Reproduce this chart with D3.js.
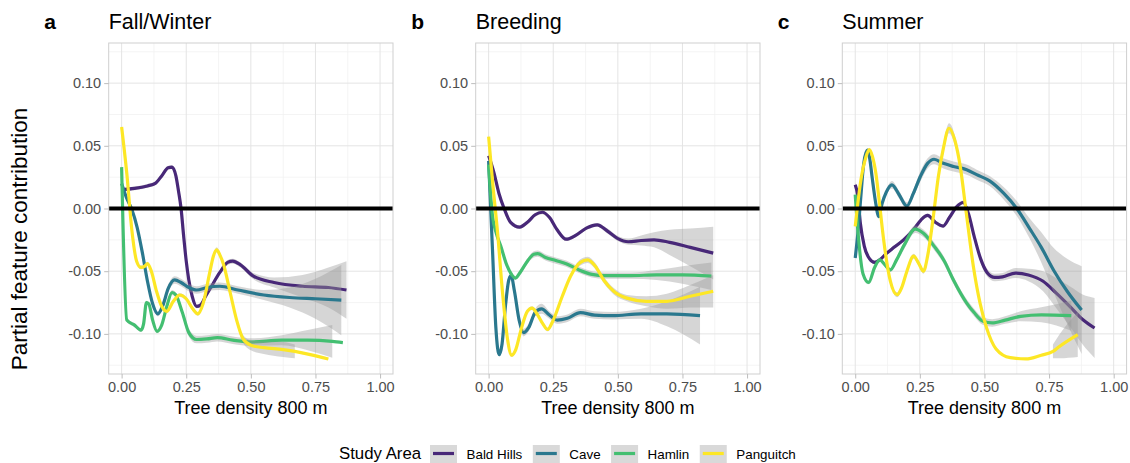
<!DOCTYPE html>
<html>
<head>
<meta charset="utf-8">
<script src="https://cdn.jsdelivr.net/npm/d3@7"></script>
<style>
  html, body { margin: 0; padding: 0; background: #fff; }
  svg { display: block; font-family: "Liberation Sans", Arial, Helvetica, sans-serif; }
</style>
</head>
<body>
<svg id="chart" width="1130" height="463"></svg>
<script>
// ---- data -------------------------------------------------------------
// Each series: [tree density, partial contribution, standard error]
const seasons = ["Fall/Winter", "Breeding", "Summer"];
const panelTags = ["a", "b", "c"];
const studyAreas = ["Bald Hills", "Cave", "Hamlin", "Panguitch"];
const xTicks = [0, 0.25, 0.5, 0.75, 1];
const xMinorTicks = [0.125, 0.375, 0.625, 0.875];
const yTicks = [-0.10, -0.05, 0, 0.05, 0.10];
const yMinorTicks = [-0.125, -0.075, -0.025, 0.025, 0.075, 0.125];
const yLimits = [-0.12, 0.12];

const fallWinterBaldHills = [
  [0.0, 0.015, 0.0015], [0.05, 0.016, 0.0015], [0.10, 0.018, 0.0015], [0.13, 0.020, 0.0015],
  [0.155, 0.026, 0.0015], [0.18, 0.0325, 0.0015], [0.195, 0.033, 0.0015], [0.21, 0.026, 0.0015],
  [0.22, 0.014, 0.0015], [0.23, 0.0, 0.0015], [0.24, -0.022, 0.0015], [0.25, -0.042, 0.0015],
  [0.26, -0.057, 0.0015], [0.273, -0.070, 0.0015], [0.29, -0.078, 0.0015], [0.305, -0.077, 0.0015],
  [0.325, -0.070, 0.0015], [0.345, -0.063, 0.0015], [0.38, -0.051, 0.0015], [0.41, -0.043, 0.002],
  [0.43, -0.042, 0.002], [0.46, -0.045, 0.002], [0.51, -0.054, 0.0025], [0.59, -0.059, 0.004],
  [0.70, -0.062, 0.009], [0.80, -0.063, 0.016], [0.87, -0.065, 0.023]
];
const fallWinterCave = [
  [0.0, 0.020, 0.0015], [0.02, 0.008, 0.0015], [0.04, -0.001, 0.0015], [0.06, -0.015, 0.0015],
  [0.08, -0.035, 0.0015], [0.10, -0.058, 0.0015], [0.12, -0.076, 0.0015], [0.14, -0.084, 0.002],
  [0.16, -0.077, 0.0025], [0.18, -0.064, 0.003], [0.205, -0.057, 0.003], [0.23, -0.059, 0.003],
  [0.26, -0.063, 0.003], [0.29, -0.065, 0.003], [0.33, -0.063, 0.003], [0.38, -0.062, 0.003],
  [0.45, -0.065, 0.003], [0.55, -0.069, 0.004], [0.65, -0.071, 0.008], [0.75, -0.072, 0.016],
  [0.85, -0.073, 0.028]
];
const fallWinterHamlin = [
  [0.0, 0.033, 0.0015], [0.02, -0.089, 0.0015], [0.05, -0.093, 0.0015], [0.075, -0.097, 0.0015],
  [0.085, -0.092, 0.0015], [0.096, -0.075, 0.0015], [0.105, -0.076, 0.0015], [0.12, -0.089, 0.0015],
  [0.137, -0.098, 0.0015], [0.155, -0.093, 0.0015], [0.175, -0.078, 0.0015], [0.195, -0.067, 0.002],
  [0.21, -0.069, 0.002], [0.235, -0.083, 0.0025], [0.26, -0.099, 0.003], [0.29, -0.1045, 0.003],
  [0.33, -0.104, 0.003], [0.37, -0.103, 0.003], [0.43, -0.105, 0.003], [0.50, -0.1065, 0.003],
  [0.62, -0.105, 0.004], [0.72, -0.105, 0.008], [0.815, -0.106, 0.013], [0.856, -0.107, 0.017]
];
const fallWinterPanguitch = [
  [0.0, 0.065, 0.0015], [0.02, 0.028, 0.0015], [0.04, -0.018, 0.0015], [0.058, -0.042, 0.0015],
  [0.075, -0.047, 0.0015], [0.09, -0.046, 0.0015], [0.10, -0.044, 0.0015], [0.115, -0.050, 0.0015],
  [0.135, -0.066, 0.0015], [0.155, -0.078, 0.0015], [0.175, -0.082, 0.0015], [0.20, -0.074, 0.0015],
  [0.225, -0.069, 0.0015], [0.25, -0.072, 0.0015], [0.275, -0.080, 0.0015], [0.295, -0.084, 0.0015],
  [0.315, -0.076, 0.0015], [0.34, -0.052, 0.0015], [0.355, -0.038, 0.0015], [0.368, -0.033, 0.002],
  [0.38, -0.037, 0.002], [0.395, -0.045, 0.002], [0.42, -0.067, 0.002], [0.445, -0.089, 0.0025],
  [0.47, -0.104, 0.003], [0.50, -0.109, 0.004], [0.55, -0.111, 0.005], [0.625, -0.1125, 0.006],
  [0.67, -0.114, 0.0055], [0.73, -0.1165, 0.007], [0.80, -0.120, 0.010]
];

const breedingBaldHills = [
  [0.0, 0.042, 0.0015], [0.02, 0.029, 0.0015], [0.04, 0.012, 0.0015], [0.06, 0.0, 0.0015],
  [0.085, -0.011, 0.0015], [0.12, -0.0148, 0.0015], [0.15, -0.011, 0.0015], [0.18, -0.005, 0.0015],
  [0.208, -0.003, 0.0015], [0.235, -0.007, 0.0015], [0.265, -0.017, 0.0015], [0.30, -0.0245, 0.0015],
  [0.34, -0.021, 0.0015], [0.38, -0.0155, 0.0015], [0.42, -0.013, 0.0015], [0.46, -0.018, 0.002],
  [0.50, -0.024, 0.002], [0.54, -0.0265, 0.0025], [0.59, -0.0255, 0.004], [0.64, -0.025, 0.006],
  [0.70, -0.027, 0.010], [0.78, -0.031, 0.015], [0.869, -0.0356, 0.021]
];
const breedingCave = [
  [0.0, 0.038, 0.0015], [0.015, -0.033, 0.0015], [0.028, -0.095, 0.0015], [0.041, -0.1166, 0.0015],
  [0.052, -0.108, 0.0015], [0.065, -0.078, 0.0015], [0.078, -0.057, 0.0015], [0.087, -0.0535, 0.0015],
  [0.10, -0.066, 0.0015], [0.118, -0.089, 0.002], [0.135, -0.099, 0.003], [0.155, -0.095, 0.003],
  [0.18, -0.083, 0.003], [0.205, -0.080, 0.004], [0.235, -0.085, 0.003], [0.265, -0.089, 0.003],
  [0.305, -0.0875, 0.003], [0.355, -0.083, 0.003], [0.41, -0.085, 0.003], [0.48, -0.0855, 0.003],
  [0.59, -0.084, 0.004], [0.69, -0.084, 0.010], [0.818, -0.0855, 0.023]
];
const breedingHamlin = [
  [0.0, 0.035, 0.0015], [0.015, -0.006, 0.0015], [0.03, -0.020, 0.0015], [0.047, -0.030, 0.0015],
  [0.07, -0.045, 0.0015], [0.09, -0.053, 0.0015], [0.103, -0.0555, 0.0015], [0.125, -0.050, 0.002],
  [0.15, -0.042, 0.002], [0.175, -0.0365, 0.0025], [0.19, -0.036, 0.0025], [0.22, -0.039, 0.0025],
  [0.26, -0.0415, 0.0025], [0.30, -0.044, 0.0025], [0.35, -0.049, 0.0025], [0.40, -0.0525, 0.0025],
  [0.45, -0.0535, 0.0025], [0.55, -0.0535, 0.0025], [0.65, -0.053, 0.004], [0.75, -0.053, 0.007],
  [0.862, -0.054, 0.011]
];
const breedingPanguitch = [
  [0.0, 0.0574, 0.0015], [0.015, 0.022, 0.0015], [0.035, -0.020, 0.0015], [0.054, -0.0675, 0.0015],
  [0.073, -0.104, 0.0015], [0.089, -0.117, 0.0015], [0.105, -0.1125, 0.0015], [0.125, -0.097, 0.0015],
  [0.15, -0.082, 0.0015], [0.168, -0.0795, 0.0015], [0.19, -0.085, 0.0015], [0.21, -0.092, 0.0015],
  [0.228, -0.0965, 0.0015], [0.25, -0.089, 0.0015], [0.285, -0.070, 0.0015], [0.317, -0.054, 0.0015],
  [0.355, -0.043, 0.0025], [0.383, -0.041, 0.0025], [0.413, -0.046, 0.0025], [0.445, -0.057, 0.0025],
  [0.484, -0.066, 0.0025], [0.535, -0.0715, 0.0025], [0.61, -0.074, 0.004], [0.69, -0.074, 0.006],
  [0.78, -0.070, 0.009], [0.869, -0.066, 0.013]
];

const summerBaldHills = [
  [0.0, 0.019, 0.0015], [0.01, 0.010, 0.0015], [0.02, -0.012, 0.0015], [0.035, -0.030, 0.0015],
  [0.055, -0.040, 0.0015], [0.075, -0.043, 0.0015], [0.095, -0.041, 0.0015], [0.12, -0.036, 0.0015],
  [0.15, -0.031, 0.0015], [0.187, -0.025, 0.0015], [0.225, -0.017, 0.0015], [0.255, -0.009, 0.0015],
  [0.28, -0.0055, 0.0015], [0.31, -0.011, 0.0015], [0.34, -0.014, 0.0015], [0.365, -0.007, 0.0015],
  [0.393, 0.0015, 0.0015], [0.418, 0.0048, 0.0015], [0.438, -0.004, 0.0015], [0.46, -0.022, 0.002],
  [0.485, -0.040, 0.003], [0.51, -0.051, 0.003], [0.54, -0.055, 0.003], [0.57, -0.0545, 0.003],
  [0.62, -0.0515, 0.004], [0.67, -0.053, 0.005], [0.727, -0.058, 0.008], [0.778, -0.0675, 0.012],
  [0.83, -0.078, 0.016], [0.88, -0.0885, 0.020], [0.926, -0.0953, 0.024]
];
const summerCave = [
  [0.0, -0.0395, 0.0015], [0.01, -0.020, 0.0015], [0.02, 0.005, 0.0015], [0.033, 0.036, 0.0015],
  [0.047, 0.0465, 0.0015], [0.056, 0.040, 0.0015], [0.066, 0.024, 0.0015], [0.078, 0.006, 0.0015],
  [0.091, -0.0065, 0.0015], [0.104, 0.004, 0.0015], [0.12, 0.013, 0.002], [0.142, 0.0189, 0.003],
  [0.17, 0.011, 0.003], [0.20, 0.002, 0.003], [0.225, 0.012, 0.003], [0.252, 0.0255, 0.004],
  [0.28, 0.036, 0.004], [0.305, 0.0393, 0.004], [0.341, 0.036, 0.004], [0.38, 0.0335, 0.004],
  [0.431, 0.031, 0.004], [0.47, 0.027, 0.004], [0.52, 0.022, 0.004], [0.575, 0.012, 0.005],
  [0.625, 0.0, 0.006], [0.675, -0.016, 0.008], [0.72, -0.031, 0.012], [0.77, -0.050, 0.018],
  [0.82, -0.066, 0.026], [0.876, -0.081, 0.035]
];
const summerHamlin = [
  [0.0, 0.011, 0.0015], [0.012, -0.022, 0.0015], [0.03, -0.052, 0.0015], [0.052, -0.059, 0.0015],
  [0.075, -0.047, 0.0015], [0.095, -0.041, 0.0015], [0.115, -0.045, 0.0015], [0.136, -0.049, 0.0015],
  [0.16, -0.041, 0.002], [0.19, -0.029, 0.003], [0.232, -0.0165, 0.003], [0.265, -0.020, 0.003],
  [0.305, -0.030, 0.003], [0.345, -0.042, 0.003], [0.38, -0.057, 0.003], [0.43, -0.075, 0.003],
  [0.46, -0.083, 0.003], [0.495, -0.090, 0.003], [0.53, -0.0913, 0.003], [0.58, -0.089, 0.003],
  [0.64, -0.086, 0.004], [0.72, -0.0848, 0.006], [0.836, -0.0855, 0.012]
];
const summerPanguitch = [
  [0.0, -0.0143, 0.0015], [0.01, 0.004, 0.0015], [0.02, 0.0202, 0.0015], [0.04, 0.040, 0.0015],
  [0.054, 0.047, 0.0015], [0.066, 0.042, 0.0015], [0.08, 0.028, 0.0015], [0.095, 0.002, 0.0015],
  [0.11, -0.025, 0.0015], [0.136, -0.058, 0.0015], [0.162, -0.0688, 0.002], [0.18, -0.063, 0.002],
  [0.20, -0.050, 0.002], [0.226, -0.038, 0.002], [0.245, -0.0435, 0.002], [0.264, -0.050, 0.002],
  [0.28, -0.038, 0.002], [0.30, -0.010, 0.003], [0.322, 0.026, 0.004], [0.341, 0.048, 0.004],
  [0.363, 0.064, 0.004], [0.386, 0.054, 0.004], [0.406, 0.034, 0.003], [0.43, -0.004, 0.003],
  [0.457, -0.046, 0.003], [0.483, -0.0755, 0.003], [0.508, -0.095, 0.004], [0.545, -0.112, 0.009],
  [0.60, -0.119, 0.009], [0.66, -0.120, 0.010], [0.72, -0.117, 0.011], [0.765, -0.114, 0.0055],
  [0.79, -0.110, 0.0095], [0.861, -0.1005, 0.018]
];

const panelSeries = [
  [fallWinterBaldHills, fallWinterCave, fallWinterHamlin, fallWinterPanguitch],
  [breedingBaldHills, breedingCave, breedingHamlin, breedingPanguitch],
  [summerBaldHills, summerCave, summerHamlin, summerPanguitch]
];

// ---- styling ------------------------------------------------------------
const areaColors = ["#482878", "#2A788E", "#43BF71", "#FDE725"];
const W = 1130, H = 463;
const panelLefts = [108.7, 475.7, 842.3];
const panelW = 284.3, panelTop = 43, panelBottom = 374;
const tickColor = "#4D4D4D";
const fmt = v => d3.format(".2f")(v).replace("\u2212", "-");

const svg = d3.select("#chart");
svg.append("rect").attr("width", W).attr("height", H).attr("fill", "#fff");

panelLefts.forEach((left, p) => {
  const x = d3.scaleLinear().domain([-0.05, 1.05]).range([left, left + panelW]);
  const y = d3.scaleLinear().domain([-0.132, 0.132]).range([panelBottom, panelTop]);
  const g = svg.append("g");

  const clipId = "clip" + p;
  svg.append("clipPath").attr("id", clipId)
    .append("rect").attr("x", left).attr("y", panelTop)
    .attr("width", panelW).attr("height", panelBottom - panelTop);

  // grid
  const grid = g.append("g");
  grid.selectAll(".xmin").data(xMinorTicks).join("line")
    .attr("x1", d => x(d)).attr("x2", d => x(d))
    .attr("y1", panelTop).attr("y2", panelBottom)
    .attr("stroke", "#F1F1F1").attr("stroke-width", 0.8);
  grid.selectAll(".ymin").data(yMinorTicks).join("line")
    .attr("y1", d => y(d)).attr("y2", d => y(d))
    .attr("x1", left).attr("x2", left + panelW)
    .attr("stroke", "#F1F1F1").attr("stroke-width", 0.8);
  grid.selectAll(".xmaj").data(xTicks).join("line")
    .attr("x1", d => x(d)).attr("x2", d => x(d))
    .attr("y1", panelTop).attr("y2", panelBottom)
    .attr("stroke", "#E4E4E4").attr("stroke-width", 1);
  grid.selectAll(".ymaj").data(yTicks).join("line")
    .attr("y1", d => y(d)).attr("y2", d => y(d))
    .attr("x1", left).attr("x2", left + panelW)
    .attr("stroke", "#E4E4E4").attr("stroke-width", 1);

  // smooths: ribbon then line for each study area
  const marks = g.append("g").attr("clip-path", `url(#${clipId})`);
  const ribbon = d3.area()
    .defined(d => d[2] != null && d[1] - d[2] >= yLimits[0] - 1e-9 && d[1] + d[2] <= yLimits[1])
    .x(d => x(d[0])).y0(d => y(d[1] - d[2])).y1(d => y(d[1] + d[2]))
    .curve(d3.curveMonotoneX);
  const line = d3.line().x(d => x(d[0])).y(d => y(d[1])).curve(d3.curveMonotoneX);

  panelSeries[p].forEach((series, i) => {
    marks.append("path").attr("d", ribbon(series))
      .attr("fill", "#999999").attr("fill-opacity", 0.4).attr("stroke", "none");
    marks.append("path").attr("d", line(series))
      .attr("fill", "none").attr("stroke", areaColors[i])
      .attr("stroke-width", 3.2).attr("stroke-linecap", "butt").attr("stroke-linejoin", "round");
  });

  // zero reference line
  marks.append("line")
    .attr("x1", left).attr("x2", left + panelW)
    .attr("y1", y(0)).attr("y2", y(0))
    .attr("stroke", "#000").attr("stroke-width", 4);

  // panel border
  g.append("rect").attr("x", left).attr("y", panelTop)
    .attr("width", panelW).attr("height", panelBottom - panelTop)
    .attr("fill", "none").attr("stroke", "#CFCFCF").attr("stroke-width", 1);

  // axes
  const xAxis = g.append("g").attr("transform", `translate(0,${panelBottom})`)
    .call(d3.axisBottom(x).tickValues(xTicks).tickFormat(fmt).tickSize(4.5).tickPadding(3));
  const yAxis = g.append("g").attr("transform", `translate(${left},0)`)
    .call(d3.axisLeft(y).tickValues(yTicks).tickFormat(fmt).tickSize(4.5).tickPadding(3));
  [xAxis, yAxis].forEach(a => {
    a.select(".domain").remove();
    a.selectAll(".tick line").attr("stroke", "#BDBDBD");
    a.selectAll(".tick text").attr("fill", tickColor)
      .style("font-size", "14.5px").style("font-family", "Liberation Sans, Arial, sans-serif");
  });

  // axis title
  g.append("text").attr("x", x(0.5)).attr("y", 414)
    .attr("text-anchor", "middle").style("font-size", "18px").attr("fill", "#000")
    .text("Tree density 800 m");

  // panel title and tag
  g.append("text").attr("x", left).attr("y", 28.5)
    .style("font-size", "21.5px").attr("fill", "#000").text(seasons[p]);
  g.append("text").attr("x", left - 64.5).attr("y", 29)
    .style("font-size", "21px").style("font-weight", "bold").attr("fill", "#000").text(panelTags[p]);
});

// shared y-axis title
svg.append("text")
  .attr("transform", "translate(27,239) rotate(-90)")
  .attr("text-anchor", "middle").style("font-size", "22.5px").attr("fill", "#000")
  .text("Partial feature contribution");

// legend
const legend = svg.append("g");
legend.append("text").attr("x", 339).attr("y", 459)
  .style("font-size", "16.8px").attr("fill", "#000").text("Study Area");
let cursor = 430;
const keyW = 27;
studyAreas.forEach((name, i) => {
  legend.append("rect").attr("x", cursor).attr("y", 445).attr("width", keyW).attr("height", 18)
    .attr("fill", "#D9D9D9");
  legend.append("line").attr("x1", cursor + 3).attr("x2", cursor + keyW - 3)
    .attr("y1", 453.5).attr("y2", 453.5)
    .attr("stroke", areaColors[i]).attr("stroke-width", 3.2);
  const t = legend.append("text").attr("x", cursor + keyW + 9.5).attr("y", 458.5)
    .style("font-size", "13.4px").attr("fill", "#000").text(name);
  cursor = cursor + keyW + 9.5 + t.node().getComputedTextLength() + 10.5;
});
</script>
</body>
</html>
